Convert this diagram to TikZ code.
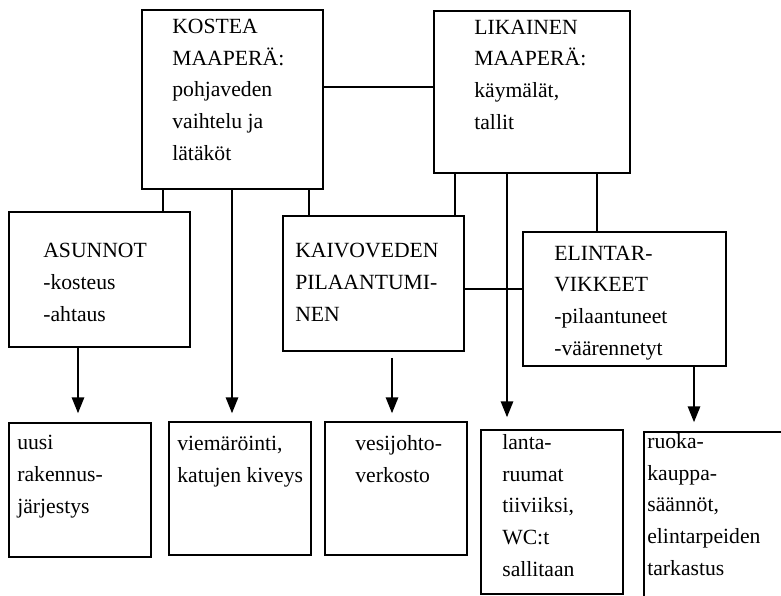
\documentclass[tikz,border=0pt]{standalone}
\usepackage{fontspec}
\setmainfont{Liberation Serif}
\usetikzlibrary{arrows.meta,fit}

\begin{document}
\begin{tikzpicture}[x=0.6pt, y=-0.6pt,
  font=\fontsize{13}{19}\selectfont,
  box/.style={draw, line width=1pt, inner sep=0pt},
  txt/.style={anchor=base west, align=left, inner sep=0pt},
  link/.style={line width=0.8pt},
  arr/.style={line width=0.8pt, -{Triangle[length=9.5pt, width=7.5pt]}}]
  \clip (0,0) rectangle (781,595);
  % 상자: 왼쪽 위 -- 오른쪽 아래 (y는 아래로)
  \node[box, fit={(142,10) (323,189)}] (kostea) {};
  \node[box, fit={(434,11) (630,173)}] (likainen) {};
  \node[box, fit={(9,212) (190,347)}] (asunnot) {};
  \node[box, fit={(283,216) (464,351)}] (kaivo) {};
  \node[box, fit={(523,232) (726,366)}] (elintar) {};
  \node[box, fit={(9,423) (151,557)}] (uusi) {};
  \node[box, fit={(169,422) (311,555)}] (viemar) {};
  \node[box, fit={(325,422) (467,555)}] (vesi) {};
  \node[box, fit={(481,430) (623,594)}] (lanta) {};
  \node[box, fit={(644,432) (820,640)}] (ruoka) {};
  % 세로선의 x, 가로선의 y
  \coordinate (c1) at (163,0); \coordinate (c2) at (232,0); \coordinate (c3) at (309,0);
  \coordinate (c4) at (455,0); \coordinate (c5) at (507,0); \coordinate (c6) at (597,0);
  \coordinate (c7) at (78,0);  \coordinate (c8) at (392,0); \coordinate (c9) at (694,0);
  \coordinate (r1) at (0,87);  \coordinate (r2) at (0,289);
  % 잇는 선
  \draw[link] (kostea.east |- r1) -- (likainen.west |- r1);
  \draw[link] (c1 |- kostea.south) -- (c1 |- asunnot.north);
  \draw[link] (c3 |- kostea.south) -- (c3 |- kaivo.north);
  \draw[link] (c4 |- likainen.south) -- (c4 |- kaivo.north);
  \draw[link] (c6 |- likainen.south) -- (c6 |- elintar.north);
  \draw[link] (kaivo.east |- r2) -- (elintar.west |- r2);
  \draw[arr, shorten >=4.8pt] (c2 |- kostea.south) -- (c2 |- viemar.north);
  \draw[arr, shorten >=7.2pt] (c5 |- likainen.south) -- (c5 |- lanta.north);
  \draw[arr, shorten >=5.4pt] (c7 |- asunnot.south) -- (c7 |- uusi.north);
  \draw[arr, shorten <=3.6pt, shorten >=4.8pt] (c8 |- kaivo.south) -- (c8 |- vesi.north);
  \draw[arr, shorten >=5.4pt] (c9 |- elintar.south) -- (c9 |- ruoka.north);
  % 글 (기준점은 마지막 줄의 밑선)
  \node[txt] (kosteaT) at (172,160) {KOSTEA\\MAAPERÄ:\\pohjaveden\\vaihtelu ja\\lätäköt};
  \node[txt] (likainenT) at (474,129) {LIKAINEN\\MAAPERÄ:\\käymälät,\\tallit};
  \node[txt] (asunnotT) at (43,321) {ASUNNOT\\-kosteus\\-ahtaus};
  \node[txt] (kaivoT) at (295,321) {KAIVOVEDEN\\PILAANTUMI-\\NEN};
  \node[txt] (elintarT) at (554,355) {ELINTAR-\\VIKKEET\\-pilaantuneet\\-väärennetyt};
  \node[txt] (uusiT) at (17,513) {uusi\\rakennus-\\järjestys};
  \node[txt] (viemarT) at (177,482) {viemäröinti,\\katujen kiveys};
  \node[txt] (vesiT) at (355,482) {vesijohto-\\verkosto};
  \node[txt] (lantaT) at (502,576) {lanta-\\ruumat\\tiiviiksi,\\WC:t\\sallitaan};
  \node[txt] (ruokaT) at (647,575) {ruoka-\\kauppa-\\säännöt,\\elintarpeiden\\tarkastus};
\end{tikzpicture}
\end{document}
